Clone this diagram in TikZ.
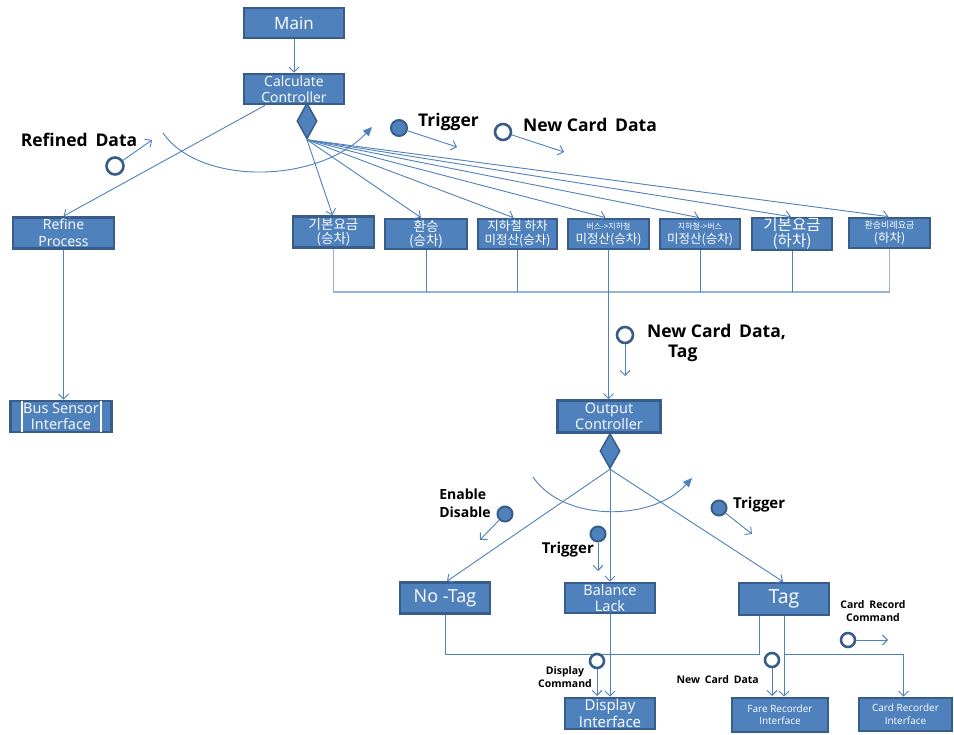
\documentclass[tikz,border=0pt]{standalone}
\usepackage{fontspec}
\setmainfont{Open Sans}
\newfontfamily\kr{Noto Sans CJK KR}
\usetikzlibrary{arrows.meta,shapes.geometric}
\newcommand\fsz[2]{\fontsize{#1}{#2}\selectfont}
\newcommand\wsp{\hspace{0.45em}}
\definecolor{boxfill}{HTML}{4F81BD}
\definecolor{boxdraw}{HTML}{385D8A}
\definecolor{conn}{HTML}{4F81BD}
\definecolor{barc}{HTML}{95B3D7}
\begin{document}
\begin{tikzpicture}[x=1pt,y=-1pt,
  box/.style={draw=boxdraw, fill=boxfill, line width=2.7pt, text=white, inner sep=0pt, align=center, font=\fsz{14.5}{16.5}},
  kbox/.style={box, font=\kr\fsz{13.5}{14.5}},
  conn/.style={draw=conn, line width=0.9pt, -{Straight Barb[length=5pt,width=10pt]}},
  plain/.style={draw=conn, line width=0.9pt},
  barline/.style={draw=barc, line width=1.6pt},
  dia/.style={diamond, draw=boxdraw, fill=boxfill, line width=1.5pt, inner sep=0pt, minimum width=20pt, minimum height=36pt},
  opensig/.style={circle, draw=boxdraw, fill=white, line width=2.6pt, minimum size=14pt, inner sep=0pt},
  fullsig/.style={circle, draw=boxdraw, fill=boxfill, line width=2pt, minimum size=15pt, inner sep=0pt},
  lab/.style={font=\bfseries\fsz{17.5}{20}, text=black, inner sep=0pt, align=left},
  slab/.style={font=\bfseries\fsz{10.5}{13}, text=black, inner sep=0pt, align=center},
  arcline/.style={draw=conn, line width=0.9pt, -{Triangle[length=9pt,width=8pt]}}
]
\fill[white] (0,0) rectangle (954,735);
\useasboundingbox (0,0) rectangle (954,735);

% ---- top part ----
\node[box, minimum width=100pt, minimum height=30pt, font=\fsz{17}{19}] (main) at (294,23) {Main};
\node[box, minimum width=100pt, minimum height=30pt, font=\fsz{14}{16}] (calc) at (294,89) {Calculate\\Controller};
\node[dia] (d1) at (307,121) {};
\node[box, minimum width=101pt, minimum height=31pt, font=\fsz{14}{17}] (refine) at (63.5,233) {Refine\\Process};
\node[box, minimum width=101pt, minimum height=31pt, font=\fsz{14.5}{16.5}] (bus) at (61,416.5) {Bus Sensor\\Interface};
\draw[white, line width=2pt] ([xshift=13pt,yshift=-1.5pt]bus.north west) -- ([xshift=13pt,yshift=1.5pt]bus.south west);
\draw[white, line width=2pt] ([xshift=-12pt,yshift=-1.5pt]bus.north east) -- ([xshift=-12pt,yshift=1.5pt]bus.south east);

\node[kbox, minimum width=81pt, minimum height=31pt] (k1) at (333.5,232) {기본요금\\(승차)};
\node[kbox, minimum width=82pt, minimum height=30pt] (k2) at (426,234) {환승\\(승차)};
\node[kbox, minimum width=79pt, minimum height=30pt, font=\kr\fsz{12.5}{14}] (k3) at (517.5,234) {지하철 하차\\미정산(승차)};
\node[kbox, minimum width=81pt, minimum height=30pt, font=\kr\fsz{12.5}{14}] (k4) at (608.5,234) {{\fsz{8}{9}버스->지하철}\\미정산(승차)};
\node[kbox, minimum width=80pt, minimum height=30pt, font=\kr\fsz{12.5}{14}] (k5) at (700,234) {{\fsz{8}{9}지하철->버스}\\미정산(승차)};
\node[kbox, minimum width=80pt, minimum height=30pt, font=\kr\fsz{15.5}{16}] (k6) at (792,234) {기본요금\\(하차)};
\node[kbox, minimum width=81pt, minimum height=30pt, font=\kr\fsz{12.5}{13.5}] (k7) at (889.5,233) {{\fsz{9}{10}환승비례요금}\\(하차)};

\draw[conn] (main) -- (calc);
\draw[conn] ([xshift=-29pt]calc.south) -- (refine.north);
\draw[conn] (refine.south) -- (refine.south |- bus.north);
\draw[conn] (d1.south) -- ([xshift=-1pt]k1.north);
\draw[conn] (d1.south) -- ([xshift=-5pt]k2.north);
\draw[conn] (d1.south) -- ([xshift=-4pt]k3.north);
\draw[conn] (d1.south) -- ([xshift=-3pt]k4.north);
\draw[conn] (d1.south) -- ([xshift=-1pt]k5.north);
\draw[conn] (d1.south) -- ([xshift=-1pt]k6.north);
\draw[conn] (d1.south) -- ([xshift=-1pt]k7.north);

\coordinate (bar) at (0,292);
\draw[barline] (k1.south) |- (bar -| k7.south) -- (k7.south);
\foreach \k in {k2,k3,k5,k6} \draw[plain] (\k.south) -- (\k.south |- bar);

% signals top
\node[opensig, minimum size=17pt] (rdc) at (115,166) {};
\coordinate (rdt) at (152,140);
\draw[conn] (rdc) -- (rdt);
\node[lab, anchor=center] (rdl) at (79,140) {Refined\wsp Data};

\node[fullsig, minimum size=16pt] (trc) at (399,128) {};
\coordinate (trt) at (457,147);
\draw[conn] (trc) -- (trt);
\node[lab, anchor=west] (trl) at (418,122) {Trigger};

\node[opensig, minimum size=16pt] (ncc) at (503,132) {};
\coordinate (nct) at (564,152);
\draw[conn] (ncc) -- (nct);
\node[lab, anchor=west] (ncl) at (523,125) {New Card\wsp Data};

\coordinate (a1s) at (163,133);
\coordinate (a1e) at (372,127);
\draw[arcline] (a1s) .. controls (200,186) and (318,184) .. (a1e);

% ---- output part ----
\node[box, minimum width=103pt, minimum height=32pt] (out) at (609,416.5) {Output\\Controller};
\draw[conn] (k4.south) -- (k4.south |- out.north);
\node[dia, minimum height=35pt] (d2) at (610,451) {};

\node[opensig, minimum size=16pt] (ntc) at (625,335) {};
\coordinate (ntt) at (625,376);
\draw[conn] (ntc) -- (ntt);
\node[lab, anchor=north west] (ntl) at (647,324) {New Card\wsp Data,\\\hspace{21pt}Tag};

\node[box, minimum width=90pt, minimum height=31pt, font=\fsz{18}{20}] (notag) at (445,598) {No -Tag};
\node[box, minimum width=90pt, minimum height=30pt] (bal) at (610,598) {Balance\\Lack};
\node[box, minimum width=90pt, minimum height=32pt, font=\fsz{19.5}{21}] (tag) at (784,599) {Tag};
\node[box, minimum width=90pt, minimum height=31pt, font=\fsz{15}{16.5}] (disp) at (610,713.5) {Display\\Interface};
\node[box, minimum width=96pt, minimum height=34pt, font=\fsz{10}{12}] (fare) at (780,715) {Fare Recorder\\Interface};
\node[box, minimum width=93pt, minimum height=33pt, font=\fsz{10}{13}] (card) at (905.5,714.5) {Card Recorder\\Interface};

\draw[conn] (d2.south) -- ([xshift=2pt]notag.north);
\draw[conn] (d2.south) -- (bal.north);
\draw[conn] (d2.south) -- ([xshift=-1pt]tag.north);

\draw[arcline] (533,477) .. controls (563,522) and (652,522) .. (692,478);

\node[fullsig] (edc) at (505,514) {};
\coordinate (edt) at (480,540);
\draw[conn] (edc) -- (edt);
\node[lab, font=\bfseries\fsz{14}{18}, anchor=center] (edl) at (465,503) {Enable\\Disable};

\node[fullsig] (tmc) at (598,534) {};
\coordinate (tmt) at (598,571);
\draw[conn] (tmc) -- (tmt);
\node[lab, font=\bfseries\fsz{15}{17}, anchor=east] (tml) at (594,550) {Trigger};

\node[fullsig] (trrc) at (719,508) {};
\coordinate (trrt) at (752,534);
\draw[conn] (trrc) -- (trrt);
\node[lab, font=\bfseries\fsz{15}{17}, anchor=west] (trrl) at (733,505) {Trigger};

\coordinate (bbar) at (0,654);
\coordinate (tagl) at ([xshift=-25pt]tag.south);
\draw[plain] (notag.south) |- (tagl |- bbar) -- (tagl);
\draw[conn] (bal.south) -- (bal.south |- disp.north);
\draw[conn] (tag.south) -- (tag.south |- fare.north);
\coordinate (cardin) at ([xshift=-2pt]card.north);
\draw[conn] (tag.south |- bbar) -| (cardin);

\node[opensig] (dcc) at (597,661) {};
\coordinate (dct) at (597,696);
\draw[conn] (dcc) -- (dct);
\node[slab] (dcl) at (565,677.5) {Display\\Command};

\node[opensig] (ncdc) at (772,660) {};
\coordinate (ncdt) at (772,696);
\draw[conn] (ncdc) -- (ncdt);
\node[slab, anchor=east] (ncdl) at (759,680) {New\wsp Card\wsp Data};

\node[opensig] (crc) at (848,640) {};
\coordinate (crt) at (888,640);
\draw[conn] (crc) -- (crt);
\node[slab] (crl) at (873,611.5) {Card\wsp Record\\Command};
\end{tikzpicture}
\end{document}
